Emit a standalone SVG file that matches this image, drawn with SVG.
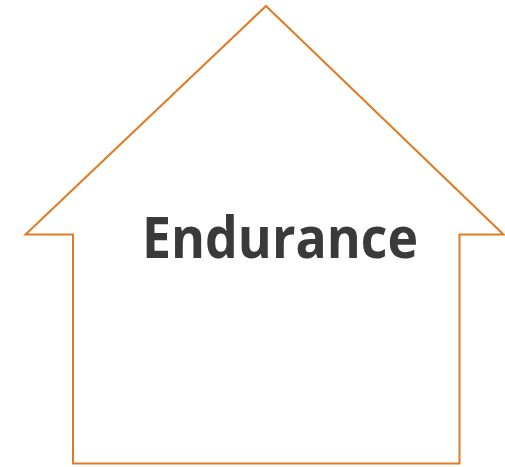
<svg xmlns="http://www.w3.org/2000/svg" width="505" height="467" viewBox="0 0 505 467">
<style>
.shape{fill:#fff;stroke:#E07B24;stroke-width:2;stroke-linejoin:miter}
.label{font-family:"Open Sans","Liberation Sans",sans-serif;font-weight:bold;fill:#3A3A3A}
</style>
<rect width="505" height="467" fill="#fff"/>
<g id="house">
<polygon class="shape" points="266,6 503.5,234.5 459.5,234.5 459.5,463.5 73,463.5 73,234.5 25.5,234.5"/>
<text class="label" x="280" y="258" font-size="58" text-anchor="middle" textLength="276" lengthAdjust="spacingAndGlyphs">Endurance</text>
</g>
</svg>
